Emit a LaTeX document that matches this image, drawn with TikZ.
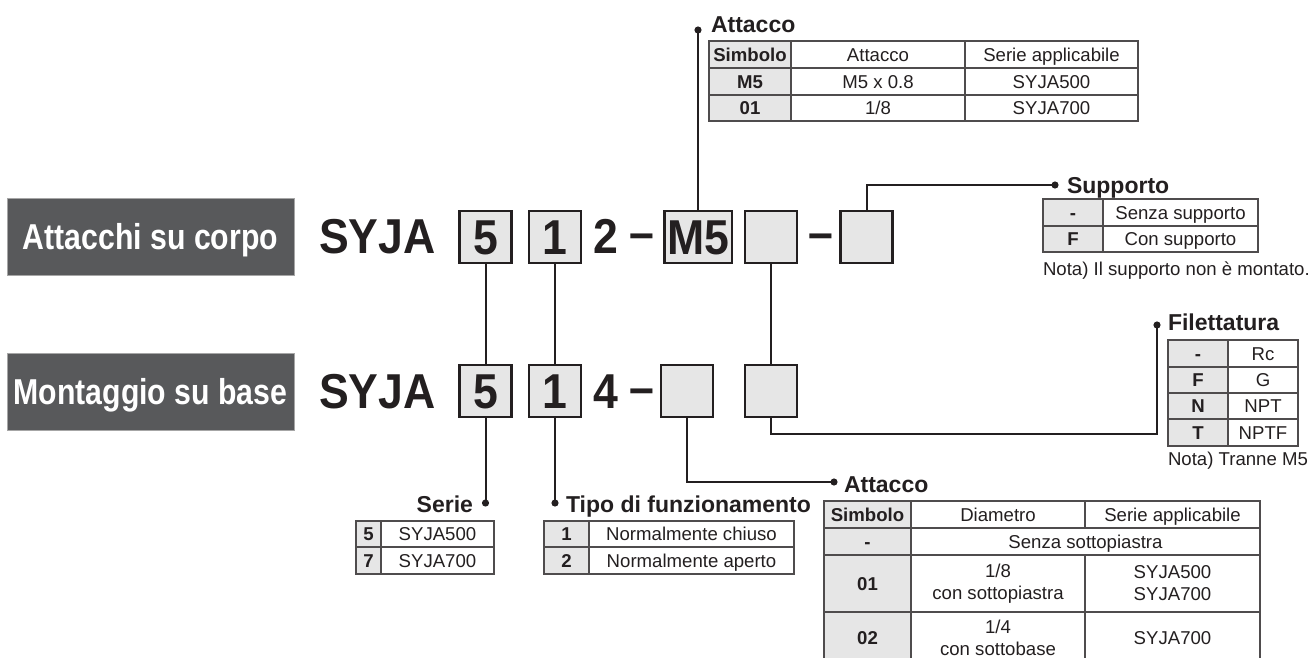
\documentclass[tikz,border=0pt]{standalone}
\usepackage{fontspec}
\setmainfont{Liberation Sans}
\newfontfamily\condfont[FakeStretch=0.84]{Liberation Sans}
\newfontfamily\codefont[FakeStretch=0.91]{Liberation Sans}
\usetikzlibrary{arrows.meta}

\definecolor{ink}{HTML}{231F20}
\definecolor{boxgray}{HTML}{E6E6E6}
\definecolor{tagfill}{HTML}{58595B}

% one table cell: name, x1, y1, x2, y2, style, text
\newcommand{\tcell}[7]{%
  \node[#6, minimum width={(#4)-(#2)}, minimum height={(#5)-(#3)}]
    (#1) at ({((#2)+(#4))/2},{((#3)+(#5))/2}) {#7};}

\begin{document}
\begin{tikzpicture}[x=1pt,y=-1pt,color=ink,line width=2pt,
    tag/.style={fill=tagfill,draw=black!35,line width=1pt,text=white,inner sep=0pt,
      minimum width=287,minimum height=77,text height=26pt,text depth=0pt,
      font=\condfont\bfseries\fontsize{36}{40}\selectfont},
    code/.style={draw=ink,fill=boxgray,line width=2.5pt,inner sep=0pt,
      minimum width=52,minimum height=52,text height=35pt,text depth=0pt,
      font=\codefont\bfseries\fontsize{49}{50}\selectfont},
    big/.style={inner sep=0pt,anchor=base west,font=\codefont\bfseries\fontsize{49}{50}\selectfont},
    title/.style={inner sep=0pt,anchor=base west,font=\bfseries\fontsize{23}{26}\selectfont},
    note/.style={inner sep=0pt,anchor=base west,font=\fontsize{18.6}{22}\selectfont},
    cellbase/.style={draw=ink!80,line width=1.2pt,inner sep=0pt,align=center,
      font=\fontsize{18.6}{22}\selectfont},
    cell/.style={cellbase,text height=13.4pt,text depth=0pt},
    two/.style={cellbase},
    sym/.style={cell,fill=boxgray,font=\bfseries\fontsize{18.6}{22}\selectfont},
    pin/.style={-{Circle[length=7pt]},line width=2pt}]
  \path[use as bounding box,clip] (0,0) rectangle (1311,657);

  % the two order codes
  \node[tag] (g_1) at (150.5,236.5) {Attacchi su corpo};
  \node[tag] (g_2) at (150.5,391.5) {Montaggio su base};

  \node[big] (m_1) at (318,253) {SYJA};
  \node[code] (c_5) at (485.5,237) {5};
  \node[code] (c_1) at (555,237) {1};
  \node[big] (n_2) at (592,253) {2};
  \node[big] (h_1) at (628,249) {–};
  \node[code,minimum width=67.5] (c_m) at (698,237) {M5};
  \node[code] (c_b) at (771,237) {};
  \node[big] (h_2) at (807,249) {–};
  \node[code] (c_s) at (866.5,237) {};

  \node[big] (m_2) at (318,408) {SYJA};
  \node[code] (d_5) at (485.5,391) {5};
  \node[code] (d_1) at (555,391) {1};
  \node[big] (n_4) at (592,408) {4};
  \node[big] (h_3) at (628,404) {–};
  \node[code] (d_a) at (687,391) {};
  \node[code] (d_b) at (771,391) {};

  % leaders
  \coordinate (p_r) at (485.5,506.5);
  \coordinate (p_t) at (555,506.5);
  \coordinate (p_a) at (698,26.5);
  \coordinate (p_s) at (1058.5,185);
  \coordinate (p_f) at (1157,321.5);
  \coordinate (p_b) at (837.5,482);
  \draw (c_5.south) -- (d_5.north);
  \draw (c_1.south) -- (d_1.north);
  \draw (c_b.south) -- (d_b.north);
  \draw[pin] (d_5.south) -- (p_r);
  \draw[pin] (d_1.south) -- (p_t);
  \draw[pin] (c_m.north) -- (p_a);
  \draw[pin] (c_s.north) |- (p_s);
  \draw[pin] (d_b.south) -- ++(0,16) -| (p_f);
  \draw[pin] (d_a.south) |- (p_b);

  % Attacco (top)
  \node[title] (ti_a) at (710,32) {Attacco};
  \tcell{a_h1}{709}{41}{791}{68}{sym}{Simbolo}
  \tcell{a_h2}{791}{41}{965}{68}{cell}{Attacco}
  \tcell{a_h3}{965}{41}{1138}{68}{cell}{Serie applicabile}
  \tcell{a_11}{709}{68}{791}{95}{sym}{M5}
  \tcell{a_12}{791}{68}{965}{95}{cell}{M5 x 0.8}
  \tcell{a_13}{965}{68}{1138}{95}{cell}{SYJA500}
  \tcell{a_21}{709}{95}{791}{121}{sym}{01}
  \tcell{a_22}{791}{95}{965}{121}{cell}{1/8}
  \tcell{a_23}{965}{95}{1138}{121}{cell}{SYJA700}

  % Supporto
  \node[title] (ti_s) at (1066,193) {Supporto};
  \tcell{s_11}{1043}{199}{1103}{226}{sym}{-}
  \tcell{s_12}{1103}{199}{1258}{226}{cell}{Senza supporto}
  \tcell{s_21}{1043}{226}{1103}{252}{sym}{F}
  \tcell{s_22}{1103}{226}{1258}{252}{cell}{Con supporto}
  \node[note] (no_s) at (1042,275) {Nota) Il supporto non è montato.};

  % Filettatura
  \node[title] (ti_f) at (1167,330) {Filettatura};
  \tcell{f_11}{1168}{340}{1228}{367}{sym}{-}
  \tcell{f_12}{1228}{340}{1298}{367}{cell}{Rc}
  \tcell{f_21}{1168}{367}{1228}{393}{sym}{F}
  \tcell{f_22}{1228}{367}{1298}{393}{cell}{G}
  \tcell{f_31}{1168}{393}{1228}{419}{sym}{N}
  \tcell{f_32}{1228}{393}{1298}{419}{cell}{NPT}
  \tcell{f_41}{1168}{419}{1228}{446}{sym}{T}
  \tcell{f_42}{1228}{419}{1298}{446}{cell}{NPTF}
  \node[note] (no_f) at (1167,465) {Nota) Tranne M5};

  % Serie
  \node[title,anchor=base east] (ti_r) at (474,512) {Serie};
  \tcell{r_11}{356}{521}{381}{547}{sym}{5}
  \tcell{r_12}{381}{521}{494}{547}{cell}{SYJA500}
  \tcell{r_21}{356}{547}{381}{574}{sym}{7}
  \tcell{r_22}{381}{547}{494}{574}{cell}{SYJA700}

  % Tipo di funzionamento
  \node[title] (ti_t) at (565,512) {Tipo di funzionamento};
  \tcell{t_11}{544}{521}{589}{547}{sym}{1}
  \tcell{t_12}{589}{521}{794}{547}{cell}{Normalmente chiuso}
  \tcell{t_21}{544}{547}{589}{574}{sym}{2}
  \tcell{t_22}{589}{547}{794}{574}{cell}{Normalmente aperto}

  % Attacco (bottom)
  \node[title] (ti_b) at (843,492) {Attacco};
  \tcell{b_h1}{824}{501}{911}{528}{sym}{Simbolo}
  \tcell{b_h2}{911}{501}{1085}{528}{cell}{Diametro}
  \tcell{b_h3}{1085}{501}{1260}{528}{cell}{Serie applicabile}
  \tcell{b_11}{824}{528}{911}{555}{sym}{-}
  \tcell{b_12}{911}{528}{1260}{555}{cell}{Senza sottopiastra}
  \tcell{b_21}{824}{555}{911}{612}{sym}{01}
  \tcell{b_22}{911}{555}{1085}{612}{two}{1/8\\con sottopiastra}
  \tcell{b_23}{1085}{555}{1260}{612}{two}{SYJA500\\SYJA700}
  \tcell{b_31}{824}{612}{911}{664}{sym}{02}
  \tcell{b_32}{911}{612}{1085}{664}{two}{1/4\\con sottobase}
  \tcell{b_33}{1085}{612}{1260}{664}{cell}{SYJA700}
\end{tikzpicture}
\end{document}
